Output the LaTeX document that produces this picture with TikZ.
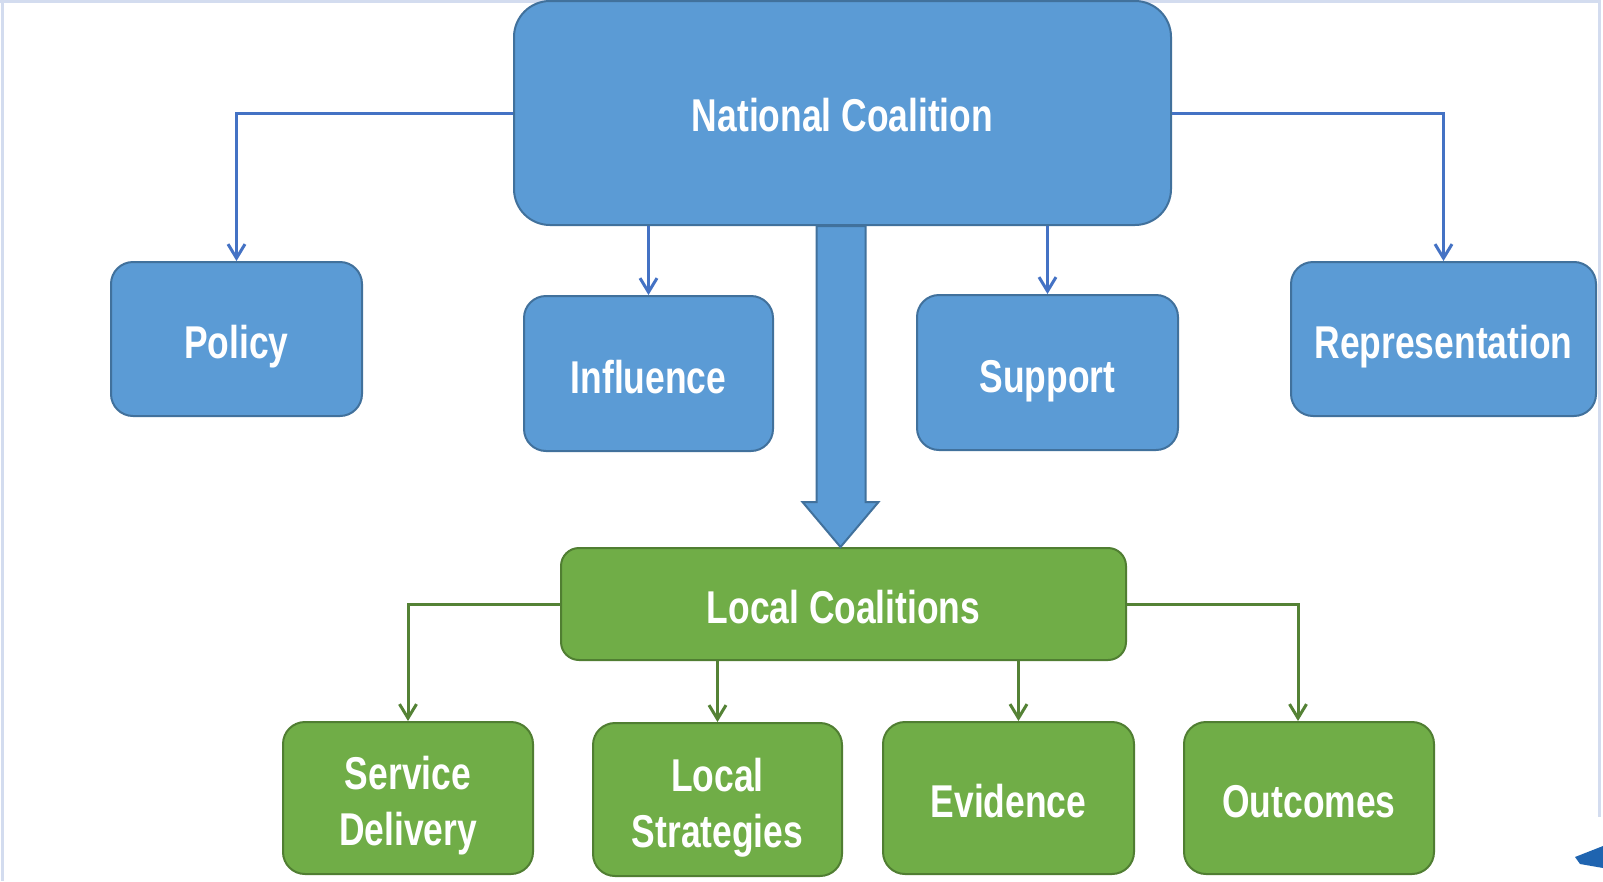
\documentclass[tikz,border=0pt]{standalone}
\usepackage{fontspec}
\setmainfont[FakeStretch=0.77]{Liberation Sans}
\usetikzlibrary{arrows.meta,calc}
\definecolor{bfill}{HTML}{5B9BD5}
\definecolor{bdraw}{HTML}{41719C}
\definecolor{bline}{HTML}{4472C4}
\definecolor{gfill}{HTML}{70AD47}
\definecolor{gdraw}{HTML}{507E32}
\definecolor{gline}{HTML}{548235}
\definecolor{frame}{HTML}{D3DCEF}
\definecolor{frag}{HTML}{1F64B0}
\tikzset{
  box/.style={rounded corners=22pt, line width=2pt, text=white, align=center,
    inner sep=0pt, text height=39pt, text depth=0pt,
    font=\bfseries\fontsize{46}{56}\selectfont},
  twoline/.style={text height=95pt},
  bluebox/.style={box, fill=bfill, draw=bdraw},
  greenbox/.style={box, fill=gfill, draw=gdraw},
  barr/.style={draw=bline, line width=3pt, -{Straight Barb[length=14pt,width=17pt,line width=3pt]}},
  garr/.style={draw=gline, line width=3pt, -{Straight Barb[length=14pt,width=17pt,line width=3pt]}},
}
\begin{document}
\begin{tikzpicture}[x=1pt,y=-1pt]
\useasboundingbox (0,0) rectangle (1603,881);
\fill[white] (0,0) rectangle (1603,881);
% faint frame
\draw[frame, line width=3pt] (2,0) -- (2,881);
\draw[frame, line width=3pt] (0,1.5) -- (1599,1.5);
\draw[frame, line width=3pt] (1599,0) -- (1599,817);
\fill[frag] (1575,857) -- (1603,846) -- (1603,868) -- (1580,864) -- cycle;

\node[bluebox, rounded corners=36pt, minimum width=657pt, minimum height=224pt, text height=37pt] (nc) at (842.5,113) {National Coalition};
\node[bluebox, minimum width=251pt, minimum height=154pt] (policy) at (236.5,339) {Policy};
\node[bluebox, minimum width=249pt, minimum height=155pt] (infl) at (648.5,373.5) {Influence};
\node[bluebox, minimum width=261pt, minimum height=155pt] (supp) at (1047.5,372.5) {Support};
\node[bluebox, minimum width=305pt, minimum height=154pt] (rep) at (1443.5,339) {Representation};

\node[greenbox, rounded corners=18pt, minimum width=565pt, minimum height=112pt] (lc) at (843.5,604) {Local Coalitions};
\node[greenbox, twoline, minimum width=250pt, minimum height=152pt] (sd) at (408,798) {Service\\Delivery};
\node[greenbox, twoline, minimum width=249pt, minimum height=153pt] (ls) at (717.5,799.5) {Local\\Strategies};
\node[greenbox, minimum width=251pt, minimum height=152pt] (ev) at (1008.5,798) {Evidence};
\node[greenbox, minimum width=250pt, minimum height=152pt] (oc) at (1309,798) {Outcomes};

% blue connectors
\draw[barr] (nc.west) -| (policy.north);
\draw[barr] (nc.east) -| (rep.north);
\draw[barr] (infl.north |- nc.south) -- (infl.north);
\draw[barr] (supp.north |- nc.south) -- (supp.north);

% big arrow
\draw[fill=bfill, draw=bdraw, line width=2pt, line join=miter]
  ($(nc.south)+(-26,0)$) -- ($(nc.south)+(23,0)$) -- ($(nc.south)+(23,276)$)
  -- ($(nc.south)+(36,276)$) -- ($(lc.north)+(-3,0)$) -- ($(nc.south)+(-40,276)$)
  -- ($(nc.south)+(-26,276)$) -- cycle;

% green connectors
\coordinate (ocin) at ([xshift=-11pt]oc.north);
\coordinate (evin) at ([xshift=10pt]ev.north);
\draw[garr] (lc.west) -| (sd.north);
\draw[garr] (lc.east) -| (ocin);
\draw[garr] (ls.north |- lc.south) -- (ls.north);
\draw[garr] (evin |- lc.south) -- (evin);
\end{tikzpicture}
\end{document}
